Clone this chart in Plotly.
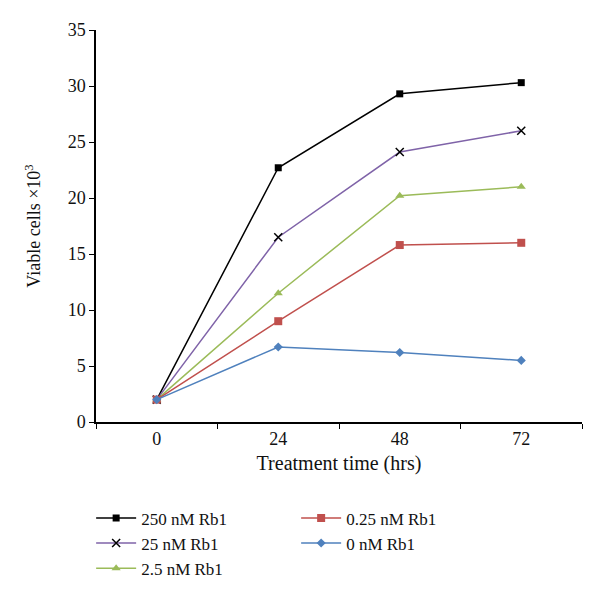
import plotly.graph_objects as go

categories = ["0", "24", "48", "72"]
names = ["250 nM Rb1", "25 nM Rb1", "2.5 nM Rb1", "0.25 nM Rb1", "0 nM Rb1"]
v250 = [2.0, 22.7, 29.3, 30.3]
v25 = [2.0, 16.5, 24.1, 26.0]
v2_5 = [2.0, 11.5, 20.2, 21.0]
v0_25 = [2.0, 9.0, 15.8, 16.0]
v0 = [2.0, 6.7, 6.2, 5.5]

series = [v250, v25, v2_5, v0_25, v0]
colors = ["#000000", "#7F63A8", "#9BBB59", "#C0504D", "#4F81BD"]
symbols = ["square", "x-thin", "triangle-up", "square", "diamond"]
sizes = [7, 8, 8, 8, 7]
ranks = [1, 3, 5, 2, 4]

FONT = "Liberation Serif"

fig = go.Figure()
for name, vals, c, s, sz, r in zip(names, series, colors, symbols, sizes, ranks):
    marker = dict(symbol=s, size=sz, color=c)
    if s == "x-thin":
        marker = dict(symbol=s, size=sz, color="#000000", line=dict(color="#000000", width=1.5))
    fig.add_trace(go.Scatter(
        x=categories, y=vals, mode="lines+markers", name=name,
        line=dict(color=c, width=1.5), marker=marker, legendrank=r,
    ))

fig.update_layout(
    width=600, height=592,
    paper_bgcolor="white", plot_bgcolor="white",
    margin=dict(l=88, r=26, t=22, b=178),
    font=dict(family=FONT, size=16, color="#111111"),
    legend=dict(
        orientation="h", x=-0.01, xanchor="left", y=-0.2, yanchor="top",
        entrywidth=150, font=dict(family=FONT, size=17), tracegroupgap=0,
        itemwidth=40,
    ),
    showlegend=True,
)
fig.update_xaxes(
    type="category", range=[-0.5, 3.5], tickson="boundaries",
    ticks="outside", ticklen=5, tickcolor="black", automargin=False,
    showline=True, linecolor="black", linewidth=1.5, showgrid=False,
    zeroline=False,
    title=dict(text="Treatment time (hrs)", font=dict(family=FONT, size=20), standoff=8),
    tickfont=dict(family=FONT, size=18),
)
fig.update_yaxes(
    range=[0, 35], dtick=5, ticks="outside", ticklen=5, tickcolor="black",
    showline=True, linecolor="black", linewidth=1.5, showgrid=False, zeroline=False,
    automargin=False,
    title=dict(text="Viable cells ×10<sup>3</sup>", font=dict(family=FONT, size=18), standoff=22),
    tickfont=dict(family=FONT, size=18),
)

fig.write_html("out.html")
